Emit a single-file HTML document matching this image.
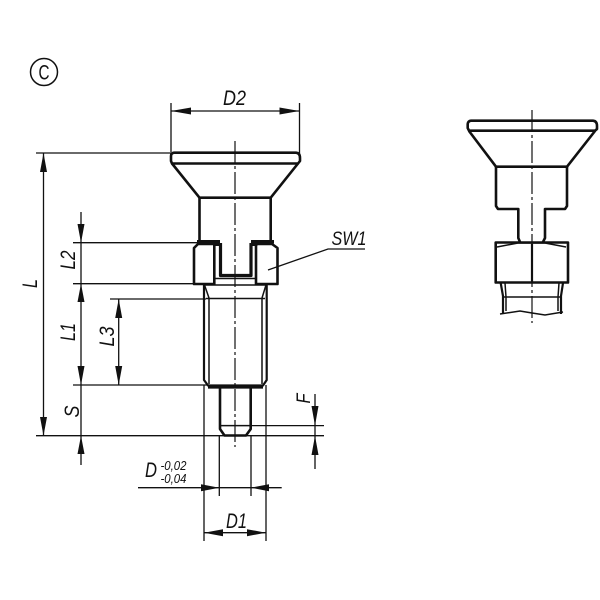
<!DOCTYPE html>
<html><head><meta charset="utf-8"><style>
html,body{margin:0;padding:0;background:#fff}
svg{display:block;filter:blur(0.3px)}
text{font-family:"Liberation Sans",sans-serif;font-style:italic;fill:#111}
.k{fill:none;stroke:#111;stroke-width:2.6;stroke-linejoin:round}
.m{fill:none;stroke:#111;stroke-width:1.5}
.t{fill:none;stroke:#111;stroke-width:1.3}
.c{fill:none;stroke:#111;stroke-width:1.2;stroke-dasharray:22 3 3 3}
.a{fill:#111}
</style></head><body>
<svg width="600" height="600" viewBox="0 0 600 600" xmlns="http://www.w3.org/2000/svg">
<!-- C mark -->
<circle cx="44" cy="72" r="13.5" fill="none" stroke="#111" stroke-width="1.5"/>
<text x="38.500" y="79.500" font-size="21" textLength="11" lengthAdjust="spacingAndGlyphs" style="font-style:normal">C</text>

<!-- Left view: head -->
<path class="k" d="M174 152.700H296Q300 153 300 158V161L298 163.500H172L171 161V156Q171 153 174 152.700Z"/>
<path class="k" d="M172 163.500L199.500 197.700H270.700L298 163.500"/>
<path class="k" d="M199.500 197.700V241M270.700 197.700V241"/>
<!-- nut -->
<path class="k" d="M198 244H214.300V284H194V248ZM272 244H256V284H277.500V248Z"/>
<path d="M197 240H220V246H214L212 243.500H197ZM274 240H251V246H257L259 243.500H274Z" class="a"/>
<path class="k" style="stroke-width:3.2" d="M220.500 243V275.500H251V243"/>
<path class="m" d="M214.300 284V278.500H256V284"/>
<!-- threaded body -->
<path class="k" style="stroke-width:2.2" d="M204 285V380L208 385.500H263L266.700 380V285"/>
<path class="m" d="M204 285H267"/>
<path class="m" d="M204.500 285L209 298V384M266 285L262 298V384M206 298.500H265"/>
<path class="k" style="stroke-width:3.2" d="M208 387H263"/>
<!-- pin -->
<path class="k" d="M220 387V429L224.500 435.500H246L250.700 429V387"/>
<path class="m" d="M220 425.600H251"/>

<!-- centerline -->
<line class="c" x1="235" y1="141" x2="235" y2="447"/>

<!-- D2 -->
<path class="t" d="M171 103V152M299.500 103V158M171 111H299.500"/>
<path class="a" d="M171 111L191 107.500V114.500ZM299.500 111L279.500 107.500V114.500Z"/>
<text x="223" y="105" font-size="21" textLength="23" lengthAdjust="spacingAndGlyphs">D2</text>

<!-- horizontal extensions -->
<path class="t" d="M36 153H172M73 242.700H198M73 283.700H195M110 299H206M73 385H207M36 435.700H324M250 425.600H324"/>

<!-- L -->
<path class="t" d="M43.500 153V435.700"/>
<path class="a" d="M43.500 153L40 172H47ZM43.500 435.700L40 417H47Z"/>
<text transform="translate(37 288) rotate(-90)" font-size="21" textLength="9" lengthAdjust="spacingAndGlyphs">L</text>

<!-- L1 L2 S chain -->
<path class="t" d="M81 212V465"/>
<path class="a" d="M81 242.700L77.500 224H84.500ZM81 283.700L77.500 302H84.500ZM81 385L77.500 366H84.500ZM81 435.700L77.500 454H84.500Z"/>
<text transform="translate(75 269.500) rotate(-90)" font-size="21" textLength="19" lengthAdjust="spacingAndGlyphs">L2</text>
<text transform="translate(75 341) rotate(-90)" font-size="21" textLength="18" lengthAdjust="spacingAndGlyphs">L1</text>
<text transform="translate(79 417.500) rotate(-90)" font-size="21" textLength="12" lengthAdjust="spacingAndGlyphs">S</text>

<!-- L3 -->
<path class="t" d="M118.700 299V385"/>
<path class="a" d="M118.700 299L115.200 318H122.200ZM118.700 385L115.200 366H122.200Z"/>
<text transform="translate(114 346.500) rotate(-90)" font-size="21" textLength="20" lengthAdjust="spacingAndGlyphs">L3</text>

<!-- SW1 -->
<path class="t" d="M268 270L328 249H365"/>
<text x="331.500" y="245" font-size="19" textLength="35" lengthAdjust="spacingAndGlyphs">SW1</text>

<!-- F -->
<path class="t" d="M315 394V469"/>
<path class="a" d="M315 425.600L311.500 406H318.500ZM315 435.700L311.500 455H318.500Z"/>
<text transform="translate(310 403.500) rotate(-90)" font-size="19" textLength="10" lengthAdjust="spacingAndGlyphs">F</text>

<!-- D, D1 -->
<path class="t" d="M204 385V541M266 385V541M219.300 435V496M251 435V496"/>
<path class="t" d="M138 487.700H281.700M204 532.700H266"/>
<path class="a" d="M219.300 487.700L201 484.200V491.200ZM251 487.700L269 484.200V491.200ZM204 532.700L223 529.200V536.200ZM266 532.700L247 529.200V536.200Z"/>
<text x="145" y="477" font-size="21" textLength="12" lengthAdjust="spacingAndGlyphs">D</text>
<text x="160.500" y="470" font-size="13" textLength="26" lengthAdjust="spacingAndGlyphs">-0,02</text>
<text x="160.500" y="483" font-size="13" textLength="26" lengthAdjust="spacingAndGlyphs">-0,04</text>
<text x="226" y="528" font-size="21" textLength="21" lengthAdjust="spacingAndGlyphs">D1</text>

<!-- Right view -->
<path class="k" d="M471 120.700H593Q597 121 597 126V129L595 130.700H469L467.700 128V124Q468 121 471 120.700Z"/>
<path class="k" d="M469 131L496 166.700H567L595 131"/>
<path class="k" d="M496 166.700V206L498 209H518.300V238L520 242M567 166.700V206L565 209H545V238L543 242"/>
<path class="k" d="M495.700 242.500H568V282.500H495.700Z"/>
<path class="m" d="M497 247L518 243H545L566 247"/>
<path class="k" style="stroke-width:2.2" d="M532 244V282"/>
<path class="k" style="stroke-width:2.2" d="M500.700 283L503 296V314M563 283L561 296V314"/>
<path class="m" d="M503 297H561M500 314L520 311L532 313L545 315L563 312"/>
<path class="m" d="M505 283L506 297V311M559 283L558 297V311"/>
<line class="c" x1="532" y1="110" x2="532" y2="323"/>
</svg>
</body></html>
